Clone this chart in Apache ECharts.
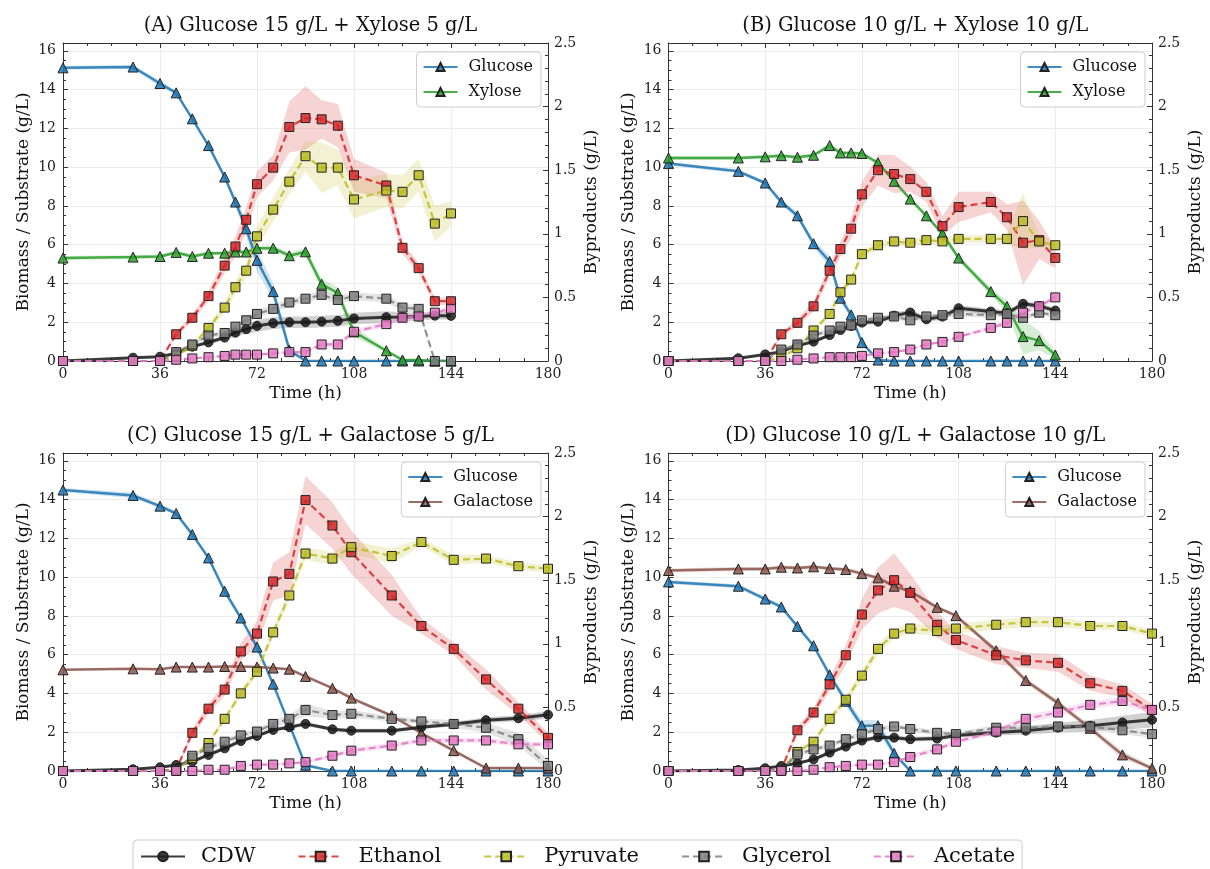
<!DOCTYPE html>
<html>
<head>
<meta charset="utf-8">
<script src="https://cdn.jsdelivr.net/npm/echarts@6/dist/echarts.min.js"></script>
<style>
  html, body { margin: 0; padding: 0; background: #fff; }
  #chart { width: 1210px; height: 869px; }
</style>
</head>
<body>
<div id="chart"></div>
<script>
// sampling times (h)
var timeAB = [0, 26, 36, 42, 48, 54, 60, 64, 68, 72, 78, 84, 90, 96, 102, 108, 120, 126, 132, 138, 144];
var timeCD = [0, 26, 36, 42, 48, 54, 60, 66, 72, 78, 84, 90, 100, 107, 122, 133, 145, 157, 169, 180];

// (A) Glucose 15 + Xylose 5
var glucoseA  = [15.12, 15.16, 14.31, 13.83, 12.49, 11.11, 9.49, 8.2, 6.82, 5.19, 3.58, 0.57, 0, 0, 0, 0, 0, 0, 0, 0, 0];
var xyloseA   = [5.31, 5.36, 5.39, 5.6, 5.39, 5.56, 5.56, 5.62, 5.62, 5.81, 5.82, 5.43, 5.63, 3.96, 3.5, 1.5, 0.53, 0.05, 0.05, 0, 0];
var cdwA      = [0, 0.17, 0.22, 0.40, 0.74, 0.96, 1.21, 1.46, 1.64, 1.81, 1.95, 2.0, 2.0, 2.03, 2.07, 2.19, 2.26, 2.27, 2.29, 2.34, 2.33];
var ethanolA  = [0, 0, 0, 0.21, 0.34, 0.51, 0.75, 0.9, 1.11, 1.39, 1.52, 1.84, 1.91, 1.9, 1.85, 1.46, 1.38, 0.89, 0.73, 0.47, 0.47];
var pyruvateA = [0, 0, 0, 0.04, 0.12, 0.26, 0.42, 0.58, 0.71, 0.98, 1.19, 1.41, 1.61, 1.52, 1.52, 1.27, 1.34, 1.33, 1.46, 1.08, 1.16];
var glycerolA = [0, 0, 0, 0.07, 0.13, 0.2, 0.22, 0.27, 0.32, 0.37, 0.41, 0.46, 0.49, 0.52, 0.48, 0.51, 0.49, 0.42, 0.41, 0, 0];
var acetateA  = [0, 0, 0, 0.01, 0.02, 0.03, 0.04, 0.05, 0.05, 0.05, 0.06, 0.07, 0.07, 0.13, 0.13, 0.23, 0.29, 0.34, 0.35, 0.38, 0.41];
// spread (shaded bands)
var glucoseA_sd  = [0.1, 0.1, 0.15, 0.1, 0.1, 0.1, 0.15, 0.2, 0.4, 0.6, 0.4, 0.2, 0, 0, 0, 0, 0, 0, 0, 0, 0];
var xyloseA_sd   = [0.1, 0.1, 0.1, 0.1, 0.1, 0.1, 0.1, 0.1, 0.1, 0.1, 0.15, 0.15, 0.2, 0.3, 0.3, 0.25, 0.1, 0.05, 0.05, 0, 0];
var cdwA_sd      = [0, 0.02, 0.03, 0.05, 0.08, 0.1, 0.15, 0.2, 0.25, 0.3, 0.3, 0.3, 0.3, 0.3, 0.3, 0.3, 0.3, 0.25, 0.2, 0.2, 0.2];
var ethanolA_sd  = [0, 0, 0, 0.02, 0.03, 0.04, 0.06, 0.08, 0.1, 0.1, 0.1, 0.2, 0.25, 0.15, 0.17, 0.13, 0.1, 0.05, 0.04, 0.03, 0.03];
var pyruvateA_sd = [0, 0, 0, 0.01, 0.02, 0.03, 0.04, 0.05, 0.06, 0.08, 0.1, 0.1, 0.12, 0.2, 0.14, 0.15, 0.13, 0.13, 0.13, 0.14, 0.1];
var glycerolA_sd = [0, 0, 0, 0.01, 0.01, 0.02, 0.02, 0.02, 0.03, 0.03, 0.03, 0.03, 0.03, 0.03, 0.03, 0.03, 0.03, 0.03, 0.03, 0, 0];
var acetateA_sd  = [0, 0, 0, 0, 0.01, 0.01, 0.01, 0.01, 0.01, 0.01, 0.01, 0.01, 0.01, 0.02, 0.02, 0.02, 0.02, 0.02, 0.02, 0.02, 0.02];

// (B) Glucose 10 + Xylose 10
var glucoseB  = [10.18, 9.78, 9.18, 8.2, 7.49, 6.05, 5.13, 3.24, 2.38, 0.95, 0.05, 0, 0, 0, 0, 0, 0, 0, 0, 0, 0];
var xyloseB   = [10.47, 10.47, 10.53, 10.59, 10.51, 10.61, 11.11, 10.73, 10.73, 10.7, 10.22, 9.27, 8.35, 7.49, 6.56, 5.31, 3.58, 2.81, 1.26, 1.05, 0.31];
var cdwB      = [0, 0.14, 0.34, 0.48, 0.79, 1.0, 1.34, 1.6, 1.81, 1.98, 2.03, 2.34, 2.5, 2.15, 2.29, 2.72, 2.55, 2.46, 2.95, 2.84, 2.6];
var ethanolB  = [0, 0, 0, 0.21, 0.3, 0.43, 0.71, 0.88, 1.04, 1.31, 1.5, 1.47, 1.43, 1.33, 1.06, 1.21, 1.25, 1.13, 0.93, 0.95, 0.81];
var pyruvateB = [0, 0, 0, 0.03, 0.1, 0.24, 0.37, 0.54, 0.64, 0.84, 0.91, 0.94, 0.93, 0.95, 0.94, 0.96, 0.96, 0.96, 1.1, 0.94, 0.91];
var glycerolB = [0, 0, 0, 0.09, 0.13, 0.2, 0.24, 0.27, 0.28, 0.32, 0.34, 0.35, 0.32, 0.35, 0.36, 0.37, 0.36, 0.37, 0.34, 0.38, 0.36];
var acetateB  = [0, 0, 0, 0, 0.01, 0.02, 0.03, 0.03, 0.03, 0.04, 0.06, 0.07, 0.09, 0.13, 0.15, 0.19, 0.26, 0.3, 0.38, 0.43, 0.5];
var glucoseB_sd  = [0.1, 0.1, 0.1, 0.15, 0.15, 0.2, 0.3, 0.2, 0.15, 0.1, 0, 0, 0, 0, 0, 0, 0, 0, 0, 0, 0];
var xyloseB_sd   = [0.1, 0.1, 0.1, 0.1, 0.1, 0.1, 0.1, 0.1, 0.1, 0.1, 0.1, 0.1, 0.1, 0.1, 0.1, 0.15, 0.2, 0.3, 0.9, 0.5, 0.2];
var cdwB_sd      = [0, 0.02, 0.03, 0.05, 0.05, 0.08, 0.1, 0.1, 0.12, 0.12, 0.12, 0.15, 0.15, 0.15, 0.15, 0.15, 0.15, 0.15, 0.15, 0.15, 0.15];
var ethanolB_sd  = [0, 0, 0, 0.02, 0.03, 0.04, 0.05, 0.06, 0.08, 0.1, 0.12, 0.15, 0.1, 0.08, 0.08, 0.12, 0.08, 0.1, 0.33, 0.15, 0.08];
var pyruvateB_sd = [0, 0, 0, 0.01, 0.01, 0.02, 0.02, 0.03, 0.03, 0.03, 0.03, 0.03, 0.03, 0.03, 0.03, 0.03, 0.03, 0.04, 0.22, 0.05, 0.03];
var glycerolB_sd = [0, 0, 0, 0.01, 0.01, 0.02, 0.02, 0.02, 0.02, 0.02, 0.02, 0.02, 0.02, 0.02, 0.02, 0.02, 0.02, 0.02, 0.02, 0.02, 0.02];
var acetateB_sd  = [0, 0, 0, 0, 0, 0.01, 0.01, 0.01, 0.01, 0.01, 0.01, 0.01, 0.01, 0.01, 0.01, 0.01, 0.02, 0.02, 0.02, 0.02, 0.02];

// (C) Glucose 15 + Galactose 5
var glucoseC   = [14.49, 14.21, 13.66, 13.28, 12.2, 10.99, 9.27, 7.89, 6.39, 4.48, 2.4, 0.3, 0, 0, 0, 0, 0, 0, 0, 0];
var galactoseC = [5.22, 5.27, 5.25, 5.36, 5.36, 5.36, 5.39, 5.39, 5.36, 5.31, 5.25, 4.88, 4.27, 3.76, 2.85, 1.95, 1.05, 0.15, 0.15, 0.15];
var cdwC       = [0, 0.09, 0.19, 0.31, 0.48, 0.83, 1.17, 1.55, 1.81, 2.12, 2.26, 2.43, 2.15, 2.08, 2.08, 2.26, 2.41, 2.62, 2.72, 2.9];
var ethanolC   = [0, 0, 0, 0.01, 0.3, 0.49, 0.64, 0.94, 1.08, 1.49, 1.55, 2.13, 1.93, 1.72, 1.38, 1.14, 0.96, 0.72, 0.49, 0.26];
var pyruvateC  = [0, 0, 0, 0.01, 0.1, 0.22, 0.41, 0.61, 0.78, 1.09, 1.38, 1.71, 1.67, 1.76, 1.69, 1.8, 1.66, 1.67, 1.61, 1.59];
var glycerolC  = [0, 0, 0, 0.01, 0.12, 0.18, 0.23, 0.28, 0.31, 0.37, 0.41, 0.48, 0.44, 0.45, 0.41, 0.39, 0.37, 0.34, 0.25, 0.04];
var acetateC   = [0, 0, 0, 0, 0, 0.01, 0.01, 0.04, 0.05, 0.05, 0.06, 0.07, 0.12, 0.16, 0.2, 0.24, 0.24, 0.24, 0.21, 0.21];
var glucoseC_sd   = [0.1, 0.15, 0.1, 0.1, 0.1, 0.1, 0.1, 0.1, 0.1, 0.1, 0.1, 0.1, 0, 0, 0, 0, 0, 0, 0, 0];
var galactoseC_sd = [0.05, 0.05, 0.05, 0.05, 0.05, 0.05, 0.05, 0.05, 0.05, 0.05, 0.05, 0.08, 0.08, 0.08, 0.08, 0.08, 0.08, 0.05, 0.05, 0.05];
var cdwC_sd       = [0, 0.02, 0.03, 0.05, 0.05, 0.08, 0.1, 0.1, 0.1, 0.1, 0.1, 0.1, 0.1, 0.1, 0.1, 0.1, 0.12, 0.15, 0.15, 0.2];
var ethanolC_sd   = [0, 0, 0, 0.01, 0.03, 0.04, 0.05, 0.07, 0.1, 0.15, 0.17, 0.19, 0.18, 0.17, 0.16, 0.06, 0.05, 0.08, 0.05, 0.04];
var pyruvateC_sd  = [0, 0, 0, 0.01, 0.01, 0.02, 0.02, 0.03, 0.03, 0.04, 0.04, 0.05, 0.05, 0.05, 0.06, 0.03, 0.04, 0.03, 0.03, 0.03];
var glycerolC_sd  = [0, 0, 0, 0.01, 0.01, 0.02, 0.02, 0.02, 0.02, 0.03, 0.03, 0.05, 0.03, 0.03, 0.02, 0.02, 0.03, 0.04, 0.05, 0.05];
var acetateC_sd   = [0, 0, 0, 0, 0, 0, 0.01, 0.01, 0.01, 0.01, 0.01, 0.01, 0.02, 0.02, 0.02, 0.02, 0.02, 0.02, 0.02, 0.02];

// (D) Glucose 10 + Galactose 10
var glucoseD   = [9.75, 9.53, 8.87, 8.46, 7.46, 6.46, 4.96, 3.6, 2.33, 2.33, 0.91, 0, 0, 0, 0, 0, 0, 0, 0, 0];
var galactoseD = [10.34, 10.42, 10.42, 10.51, 10.47, 10.53, 10.44, 10.39, 10.18, 9.96, 9.53, 9.27, 8.44, 8.01, 6.2, 4.67, 3.5, 2.2, 0.83, 0.14];
var cdwD       = [0, 0.05, 0.14, 0.26, 0.4, 0.6, 0.95, 1.26, 1.57, 1.74, 1.72, 1.64, 1.67, 1.83, 1.98, 2.08, 2.24, 2.33, 2.5, 2.64];
var ethanolD   = [0, 0, 0, 0.01, 0.32, 0.46, 0.68, 0.91, 1.23, 1.42, 1.5, 1.4, 1.15, 1.03, 0.91, 0.87, 0.85, 0.69, 0.63, 0.48];
var pyruvateD  = [0, 0, 0, 0.01, 0.15, 0.23, 0.41, 0.56, 0.75, 0.96, 1.08, 1.12, 1.1, 1.12, 1.15, 1.17, 1.17, 1.14, 1.14, 1.08];
var glycerolD  = [0, 0, 0, 0.01, 0.13, 0.17, 0.2, 0.25, 0.29, 0.33, 0.35, 0.33, 0.3, 0.29, 0.34, 0.34, 0.35, 0.35, 0.32, 0.29];
var acetateD   = [0, 0, 0, 0, 0, 0.01, 0.03, 0.04, 0.05, 0.05, 0.07, 0.11, 0.17, 0.23, 0.31, 0.41, 0.46, 0.52, 0.55, 0.48];
var glucoseD_sd   = [0.1, 0.1, 0.1, 0.1, 0.1, 0.1, 0.15, 0.2, 0.3, 0.3, 0.2, 0, 0, 0, 0, 0, 0, 0, 0, 0];
var galactoseD_sd = [0.1, 0.1, 0.1, 0.1, 0.1, 0.1, 0.1, 0.1, 0.1, 0.1, 0.1, 0.1, 0.1, 0.1, 0.15, 0.15, 0.15, 0.15, 0.2, 0.1];
var cdwD_sd       = [0, 0.02, 0.03, 0.05, 0.05, 0.08, 0.1, 0.1, 0.12, 0.12, 0.12, 0.12, 0.12, 0.12, 0.15, 0.2, 0.25, 0.3, 0.35, 0.4];
var ethanolD_sd   = [0, 0, 0, 0.01, 0.03, 0.04, 0.05, 0.08, 0.12, 0.18, 0.21, 0.15, 0.1, 0.07, 0.07, 0.06, 0.07, 0.06, 0.05, 0.05];
var pyruvateD_sd  = [0, 0, 0, 0.01, 0.02, 0.02, 0.03, 0.03, 0.04, 0.04, 0.04, 0.04, 0.04, 0.04, 0.04, 0.04, 0.04, 0.03, 0.03, 0.03];
var glycerolD_sd  = [0, 0, 0, 0.01, 0.02, 0.02, 0.02, 0.02, 0.02, 0.02, 0.02, 0.02, 0.02, 0.02, 0.02, 0.02, 0.02, 0.02, 0.03, 0.03];
var acetateD_sd   = [0, 0, 0, 0, 0, 0.01, 0.01, 0.01, 0.01, 0.01, 0.01, 0.02, 0.02, 0.02, 0.02, 0.03, 0.03, 0.03, 0.03, 0.03];

var titles = ['(A) Glucose 15 g/L + Xylose 5 g/L', '(B) Glucose 10 g/L + Xylose 10 g/L',
              '(C) Glucose 15 g/L + Galactose 5 g/L', '(D) Glucose 10 g/L + Galactose 10 g/L'];

var FONT = 'DejaVu Serif';

var looks = {
	'Glucose':   { color: '#1f77b4', symbol: 'triangle', size: 10, width: 2.5, dash: 'solid', right: false },
	'Xylose':    { color: '#2ca02c', symbol: 'triangle', size: 10, width: 2.5, dash: 'solid', right: false },
	'Galactose': { color: '#8c564b', symbol: 'triangle', size: 10, width: 2.5, dash: 'solid', right: false },
	'CDW':       { color: '#1a1a1a', symbol: 'circle', size: 9, width: 3, dash: 'solid', right: false },
	'Ethanol':   { color: '#d62728', symbol: 'rect', size: 9, width: 2.2, dash: [7, 4], right: true },
	'Pyruvate':  { color: '#bcbd22', symbol: 'rect', size: 9, width: 2.2, dash: [7, 4], right: true },
	'Glycerol':  { color: '#7f7f7f', symbol: 'rect', size: 9, width: 2.2, dash: [7, 4], right: true },
	'Acetate':   { color: '#e377c2', symbol: 'rect', size: 9, width: 2.2, dash: [7, 4], right: true }
};

var panels = [
	{ t: timeAB, sugar2: 'Xylose', vals: [glucoseA, xyloseA, cdwA, ethanolA, pyruvateA, glycerolA, acetateA],
	  sds: [glucoseA_sd, xyloseA_sd, cdwA_sd, ethanolA_sd, pyruvateA_sd, glycerolA_sd, acetateA_sd],
	  left: 63, top: 43, width: 485 },
	{ t: timeAB, sugar2: 'Xylose', vals: [glucoseB, xyloseB, cdwB, ethanolB, pyruvateB, glycerolB, acetateB],
	  sds: [glucoseB_sd, xyloseB_sd, cdwB_sd, ethanolB_sd, pyruvateB_sd, glycerolB_sd, acetateB_sd],
	  left: 668.5, top: 43, width: 483.5 },
	{ t: timeCD, sugar2: 'Galactose', vals: [glucoseC, galactoseC, cdwC, ethanolC, pyruvateC, glycerolC, acetateC],
	  sds: [glucoseC_sd, galactoseC_sd, cdwC_sd, ethanolC_sd, pyruvateC_sd, glycerolC_sd, acetateC_sd],
	  left: 63, top: 453, width: 485 },
	{ t: timeCD, sugar2: 'Galactose', vals: [glucoseD, galactoseD, cdwD, ethanolD, pyruvateD, glycerolD, acetateD],
	  sds: [glucoseD_sd, galactoseD_sd, cdwD_sd, ethanolD_sd, pyruvateD_sd, glycerolD_sd, acetateD_sd],
	  left: 668.5, top: 453, width: 483.5 }
];

function hexA(hex, a) {
	var r = parseInt(hex.substr(1, 2), 16), g = parseInt(hex.substr(3, 2), 16), b = parseInt(hex.substr(5, 2), 16);
	return 'rgba(' + r + ',' + g + ',' + b + ',' + a + ')';
}

function bandSeries(t, y, sd, color, xi, yi) {
	return {
		type: 'custom', xAxisIndex: xi, yAxisIndex: yi, z: 1, silent: true, clip: true,
		data: [[0, 0]],
		renderItem: function (params, api) {
			var pts = [];
			for (var i = 0; i < t.length; i++) pts.push(api.coord([t[i], y[i] + sd[i]]));
			for (var j = t.length - 1; j >= 0; j--) pts.push(api.coord([t[j], Math.max(0, y[j] - sd[j])]));
			return { type: 'polygon', shape: { points: pts }, style: { fill: hexA(color, 0.2) } };
		}
	};
}

function lineSeries(name, t, y, xi, yi) {
	var lk = looks[name];
	var data = [];
	for (var i = 0; i < t.length; i++) data.push([t[i], y[i]]);
	return {
		name: name, type: 'line', xAxisIndex: xi, yAxisIndex: yi, z: 3,
		data: data, symbol: lk.symbol, symbolSize: lk.size, showSymbol: true,
		lineStyle: { color: lk.color, width: lk.width, type: lk.dash, opacity: 0.85 },
		itemStyle: { color: hexA(lk.color, 0.85), borderColor: '#222', borderWidth: 1 },
		emphasis: { disabled: true }
	};
}

var axisTxt = { fontFamily: FONT, fontSize: 14, color: '#222' };
var nameTxt = { fontFamily: FONT, fontSize: 17, color: '#111' };
var frame = { show: true, onZero: false, lineStyle: { color: '#333', width: 1 } };
var ticks = { show: true, inside: true, length: 5, lineStyle: { color: '#333' } };

var grids = [], xAxes = [], yAxes = [], series = [], titleList = [], legends = [];

panels.forEach(function (p, i) {
	grids.push({ left: p.left, top: p.top, width: p.width, height: 318, containLabel: false });

	xAxes.push({
		gridIndex: i, type: 'value', min: 0, max: 180, interval: 36,
		name: 'Time (h)', nameLocation: 'middle', nameGap: 24, nameTextStyle: nameTxt,
		axisLine: frame, axisTick: ticks,
		minorTick: { show: true, splitNumber: 4, length: 3, lineStyle: { color: '#333' } },
		splitLine: { show: true, lineStyle: { color: '#ececec' } },
		axisLabel: Object.assign({ margin: 6 }, axisTxt)
	});
	xAxes.push({
		gridIndex: i, type: 'value', position: 'top', min: 0, max: 180, interval: 36,
		axisLine: frame, axisTick: ticks,
		minorTick: { show: true, splitNumber: 4, length: 3, lineStyle: { color: '#333' } },
		splitLine: { show: false }, axisLabel: { show: false }
	});
	yAxes.push({
		gridIndex: i, type: 'value', position: 'left', min: 0, max: 16.4, interval: 2,
		name: 'Biomass / Substrate (g/L)', nameLocation: 'middle', nameGap: 31, nameRotate: 90, nameTextStyle: nameTxt,
		axisLine: frame, axisTick: ticks,
		minorTick: { show: true, splitNumber: 4, length: 3, lineStyle: { color: '#333' } },
		splitLine: { show: true, lineStyle: { color: '#ececec' } },
		axisLabel: Object.assign({ margin: 7, showMaxLabel: false }, axisTxt)
	});
	yAxes.push({
		gridIndex: i, type: 'value', position: 'right', min: 0, max: 2.5, interval: 0.5,
		name: 'Byproducts (g/L)', nameLocation: 'middle', nameGap: 35, nameRotate: 90, nameTextStyle: nameTxt,
		axisLine: frame, axisTick: ticks,
		minorTick: { show: true, splitNumber: 5, length: 3, lineStyle: { color: '#333' } },
		splitLine: { show: false },
		axisLabel: Object.assign({ margin: 6 }, axisTxt)
	});

	titleList.push({
		text: titles[i], left: p.left + p.width / 2, top: p.top - 32, textAlign: 'center',
		textStyle: { fontFamily: FONT, fontSize: 19.5, fontWeight: 'normal', color: '#111' }
	});

	var names = ['Glucose', p.sugar2, 'CDW', 'Ethanol', 'Pyruvate', 'Glycerol', 'Acetate'];
	var xi = 2 * i;
	names.forEach(function (nm, k) {
		var yi = looks[nm].right ? 2 * i + 1 : 2 * i;
		series.push(bandSeries(p.t, p.vals[k], p.sds[k], looks[nm].color, xi, yi));
	});
	names.forEach(function (nm, k) {
		var yi = looks[nm].right ? 2 * i + 1 : 2 * i;
		series.push(lineSeries(nm, p.t, p.vals[k], xi, yi));
	});

	legends.push({
		data: ['Glucose', p.sugar2], orient: 'vertical',
		right: 1210 - (p.left + p.width) + 7, top: p.top + 9,
		itemWidth: 34, itemHeight: 10, itemGap: 9, padding: [7, 8, 7, 6],
		backgroundColor: '#fff', borderColor: '#cfcfcf', borderWidth: 1, borderRadius: 4,
		textStyle: { fontFamily: FONT, fontSize: 16, color: '#111', padding: [0, 0, 0, 6] },
		selectedMode: false
	});
});

legends.push({
	data: ['CDW', 'Ethanol', 'Pyruvate', 'Glycerol', 'Acetate'], orient: 'horizontal',
	left: 133, top: 840, itemWidth: 44, itemHeight: 12, itemGap: 42, padding: [6, 7, 12, 7],
	backgroundColor: '#fff', borderColor: '#cfcfcf', borderWidth: 1, borderRadius: 4,
	textStyle: { fontFamily: FONT, fontSize: 21, color: '#111', padding: [0, 0, 0, 11] },
	selectedMode: false
});

var myChart = echarts.init(document.getElementById('chart'), null, { renderer: 'canvas' });
var option = {
	animation: false,
	backgroundColor: '#fff',
	title: titleList,
	grid: grids,
	xAxis: xAxes,
	yAxis: yAxes,
	legend: legends,
	series: series
};
myChart.setOption(option, true);
</script>
</body>
</html>
